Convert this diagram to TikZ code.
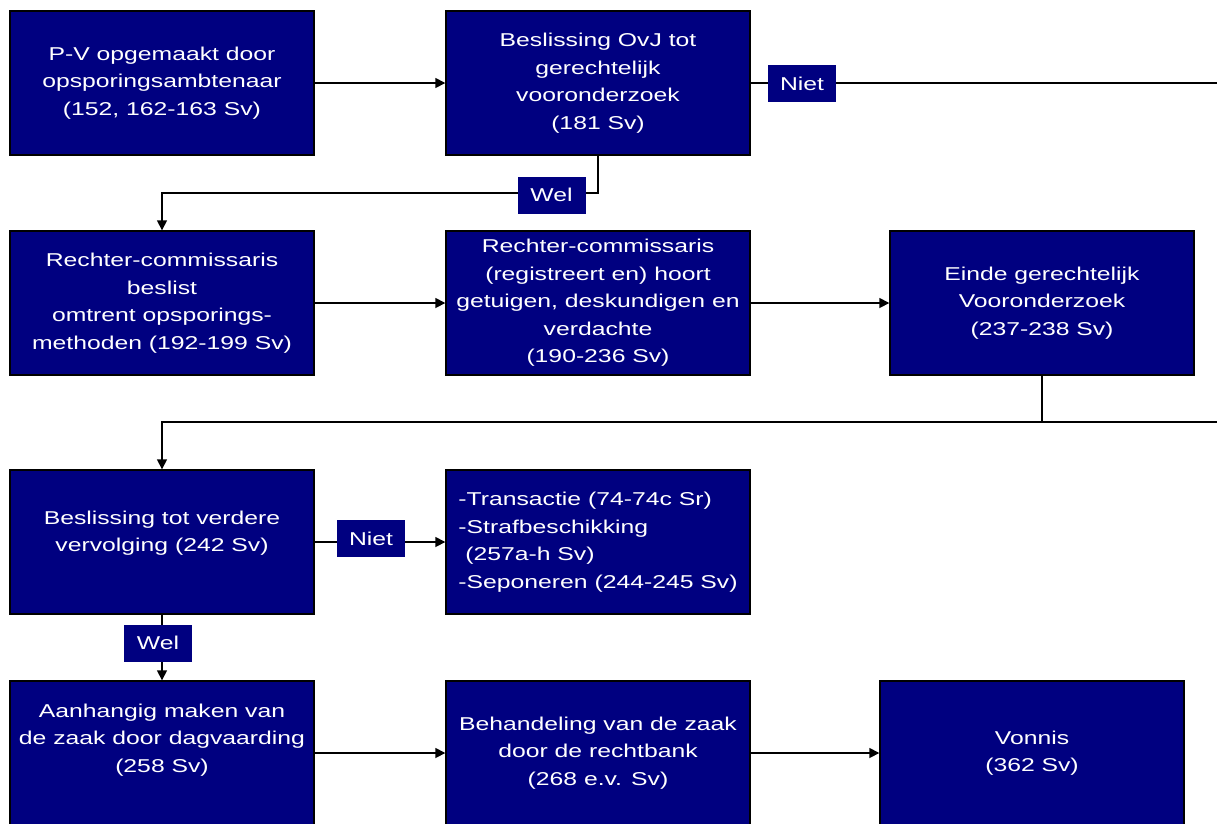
\documentclass[tikz,border=0pt]{standalone}
\usepackage{fontspec}
\setmainfont{Liberation Sans}[FakeStretch=1.33]
\usetikzlibrary{arrows.meta,positioning}

\definecolor{navyblauw}{HTML}{000080}

\tikzset{
  stap/.style={draw=black, line width=1.4pt, fill=navyblauw, text=white,
    minimum width=304pt, minimum height=144pt, inner sep=2pt, align=center,
    font=\fontsize{18.6}{27.5}\selectfont},
  keuze/.style={fill=navyblauw, text=white, minimum width=68pt,
    minimum height=37pt, inner sep=0pt, font=\fontsize{18.6}{22}\selectfont},
  lijn/.style={line width=1.6pt},
  pijl/.style={line width=1.6pt, -{Triangle[length=10pt,width=10pt]}}
}

\begin{document}
\begin{tikzpicture}[x=1pt,y=-1pt]

\useasboundingbox (0,0) rectangle (1217,823);
\clip (0,0) rectangle (1217,823);

% Vooronderzoek
\node[stap] (pv) at (162,83) {P-V opgemaakt door\\opsporingsambtenaar\\ (152, 162-163 Sv)};
\node[stap] (ovj) at (598,83) {Beslissing OvJ tot\\gerechtelijk\\vooronderzoek\\(181 Sv)};
\node[stap] (rcbeslist) at (162,303) {Rechter-commissaris\\beslist\\omtrent opsporings-\\methoden (192-199 Sv)};
\node[stap] (rchoort) at (598,303) {Rechter-commissaris\\(registreert en) hoort\\getuigen, deskundigen en\\verdachte\\(190-236 Sv)};
\node[stap] (einde) at (1042,303) {Einde gerechtelijk\\Vooronderzoek\\(237-238 Sv)};

% Vervolging
\node[stap, text depth=22pt] (verder) at (162,542) {Beslissing tot verdere\\vervolging (242 Sv)};
\node[stap, align=left] (afdoening) at (598,542) {-Transactie (74-74c Sr)\\-Strafbeschikking\\\ (257a-h Sv)\\-Seponeren (244-245 Sv)};
\node[stap, text depth=30pt] (aanhangig) at (162,753) {Aanhangig maken van\\de zaak door dagvaarding\\(258 Sv)};
\node[stap] (behandeling) at (598,753) {Behandeling van de zaak\\door de rechtbank\\(268 e.v. Sv)};
\node[stap] (vonnis) at (1032,753) {Vonnis\\(362 Sv)};

% Rand van de figuur
\coordinate (randboven) at (1217,83);
\coordinate (randmidden) at (1217,422);

% Verbindingen
\draw[pijl] (pv) -- (ovj);
\draw[lijn] (ovj.east) -- (randboven);
\draw[pijl] (ovj.south) -- ++(0,37) -| (rcbeslist.north);
\draw[pijl] (rcbeslist) -- (rchoort);
\draw[pijl] (rchoort) -- (einde);
\draw[lijn] (einde.south) |- (randmidden);
\draw[pijl] (einde.south |- randmidden) -| (verder.north);
\draw[pijl] (verder) -- (afdoening);
\draw[pijl] (verder) -- (aanhangig);
\draw[pijl] (aanhangig) -- (behandeling);
\draw[pijl] (behandeling) -- (vonnis);

% Keuzes
\node[keuze] (niet1) at (802,83.5) {Niet};
\node[keuze] (wel1) at (551.5,195) {Wel};
\node[keuze] (niet2) at (371,538.5) {Niet};
\node[keuze] (wel2) at (158,643) {Wel};

\end{tikzpicture}
\end{document}
